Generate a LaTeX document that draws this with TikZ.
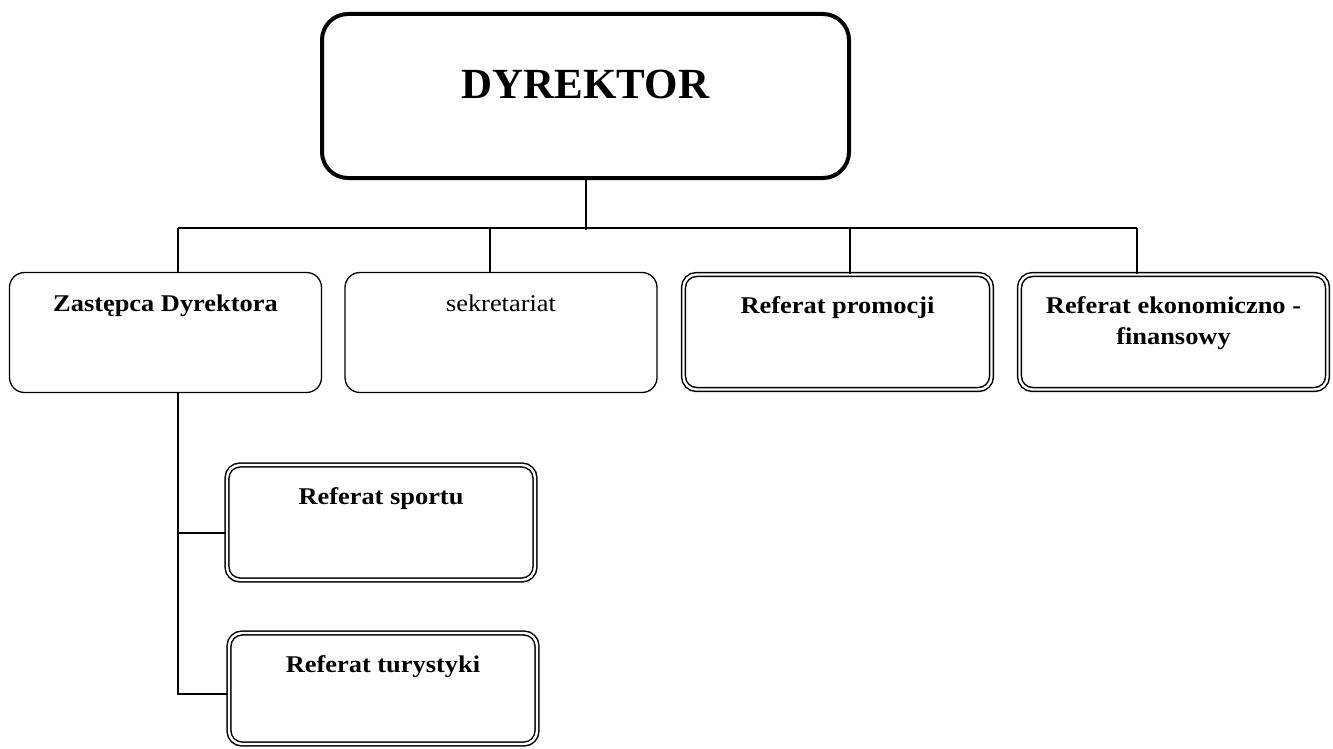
\documentclass[tikz,border=0pt]{standalone}
\usepackage{fontspec}
\setmainfont{Liberation Serif}
\newfontfamily\boxfont[FakeStretch=1.1]{Liberation Serif}
\begin{document}
\begin{tikzpicture}[x=1pt,y=-1pt,
  conn/.style={line width=1.3pt},
  boxmain/.style={draw, line width=4pt, rounded corners=26pt, minimum width=527pt, minimum height=164pt, inner sep=0pt},
  boxthin/.style={draw, line width=1.3pt, rounded corners=15pt, minimum width=312pt, minimum height=120pt, inner sep=0pt},
  boxdbl/.style={draw, line width=1.5pt, double, double distance=2.4pt, rounded corners=13pt, minimum width=308pt, minimum height=115pt, inner sep=0pt},
  lbl/.style={anchor=base, inner sep=0pt, font=\boxfont\fontsize{24}{28}\selectfont\bfseries},
  lblreg/.style={anchor=base, inner sep=0pt, font=\boxfont\fontsize{24}{28}\selectfont},
  lblbig/.style={anchor=base, inner sep=0pt, font=\fontsize{43}{50}\selectfont\bfseries}
]
\useasboundingbox (0,0) rectangle (1333,749);

\node[boxmain, label={[lblbig,yshift=-87pt]north:DYREKTOR}] (dyr) at (585.5,96) {};

\node[boxthin, label={[lbl,yshift=-39.5pt]north:Zastępca Dyrektora}] (zast) at (165.5,332.5) {};
\node[boxthin, label={[lblreg,yshift=-39.5pt]north:sekretariat}] (sekr) at (501,332.5) {};
\node[boxdbl, label={[lbl,yshift=-40pt]north:Referat promocji}] (prom) at (837.5,332) {};
\node[boxdbl, label={[lbl,yshift=-40pt]north:Referat ekonomiczno -},
  label={[lbl,yshift=-71pt]north:finansowy}] (ekon) at (1173.5,332) {};

\node[boxdbl, label={[lbl,yshift=-40pt]north:Referat sportu}] (sport) at (381,522.5) {};
\node[boxdbl, minimum height=111pt, label={[lbl,yshift=-40pt]north:Referat turystyki}] (tur) at (383,688.5) {};

\coordinate (hl) at (178,228);
\coordinate (hr) at (1137,228);

\draw[conn] ([xshift=0.5pt]dyr.south) -- ([xshift=0.5pt,yshift=-2pt]dyr.south |- hl);
\draw[conn] (hl) -- (hr);
\draw[conn] (hl) -- (hl |- zast.north);
\draw[conn] ([xshift=-11pt]sekr.north |- hl) -- ([xshift=-11pt]sekr.north);
\draw[conn] ([xshift=12.5pt]prom.north |- hl) -- ([xshift=12.5pt]prom.north);
\draw[conn] (hr) -- (hr |- ekon.north);

\draw[conn] ([xshift=12.5pt]zast.south) |- ([yshift=-10.5pt]sport.west);
\draw[conn] ([xshift=12.5pt]zast.south) |- ([yshift=-5.5pt]tur.west);
\end{tikzpicture}
\end{document}
